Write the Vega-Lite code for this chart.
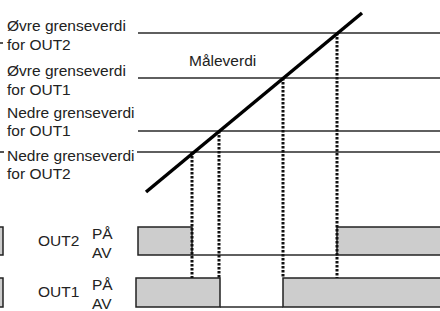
{
  "$schema": "https://vega.github.io/schema/vega-lite/v6.json",
  "width": 440,
  "height": 311,
  "padding": 0,
  "autosize": "none",
  "background": "white",
  "config": {"view": {"stroke": null}},
  "datasets": {
    "levels": [
      {"x1": 138, "x2": 440, "y1": 33, "y2": 33},
      {"x1": 138, "x2": 440, "y1": 78, "y2": 78},
      {"x1": 138, "x2": 440, "y1": 131, "y2": 131},
      {"x1": 137, "x2": 440, "y1": 152, "y2": 152},
      {"x1": 192, "x2": 337, "y1": 255, "y2": 255},
      {"x1": 220, "x2": 283, "y1": 307, "y2": 307},
      {"x1": 0, "x2": 3, "y1": 43, "y2": 43},
      {"x1": 0, "x2": 4, "y1": 152, "y2": 152}
    ],
    "measure": [
      {"x1": 146, "x2": 362, "y1": 192, "y2": 13}
    ],
    "drops": [
      {"x1": 192, "x2": 192, "y1": 152, "y2": 278},
      {"x1": 219, "x2": 219, "y1": 131, "y2": 278},
      {"x1": 283, "x2": 283, "y1": 78, "y2": 278},
      {"x1": 337, "x2": 337, "y1": 33, "y2": 278}
    ],
    "states": [
      {"output": "OUT2", "x1": 138, "x2": 192, "y1": 227, "y2": 255},
      {"output": "OUT2", "x1": 337, "x2": 450, "y1": 227, "y2": 255},
      {"output": "OUT2", "x1": -10, "x2": 3, "y1": 227, "y2": 255},
      {"output": "OUT1", "x1": 136, "x2": 220, "y1": 278, "y2": 307},
      {"output": "OUT1", "x1": 283, "x2": 450, "y1": 278, "y2": 307},
      {"output": "OUT1", "x1": -10, "x2": 3, "y1": 278, "y2": 307}
    ],
    "labels": [
      {"text": "Øvre grenseverdi", "x": 7, "y": 26},
      {"text": "for OUT2", "x": 7, "y": 45},
      {"text": "Øvre grenseverdi", "x": 7, "y": 71},
      {"text": "for OUT1", "x": 7, "y": 90},
      {"text": "Nedre grenseverdi", "x": 7, "y": 113},
      {"text": "for OUT1", "x": 7, "y": 131},
      {"text": "Nedre grenseverdi", "x": 7, "y": 156},
      {"text": "for OUT2", "x": 7, "y": 174},
      {"text": "Måleverdi", "x": 189, "y": 61},
      {"text": "OUT2", "x": 38, "y": 241},
      {"text": "PÅ", "x": 92, "y": 234},
      {"text": "AV", "x": 92, "y": 253},
      {"text": "OUT1", "x": 38, "y": 292},
      {"text": "PÅ", "x": 92, "y": 285},
      {"text": "AV", "x": 92, "y": 304}
    ]
  },
  "layer": [
    {
      "data": {"name": "states"},
      "mark": {"type": "rect", "fill": "#cdcdcd", "stroke": "#222222", "strokeWidth": 1.5, "clip": true},
      "encoding": {
        "x": {"field": "x1", "type": "quantitative", "scale": {"domain": [0, 440], "nice": false, "zero": false}, "axis": null},
        "x2": {"field": "x2"},
        "y": {"field": "y1", "type": "quantitative", "scale": {"domain": [0, 311], "nice": false, "zero": false, "reverse": true}, "axis": null},
        "y2": {"field": "y2"}
      }
    },
    {
      "data": {"name": "levels"},
      "mark": {"type": "rule", "color": "#2a2a2a", "strokeWidth": 1.6},
      "encoding": {
        "x": {"field": "x1", "type": "quantitative"},
        "x2": {"field": "x2"},
        "y": {"field": "y1", "type": "quantitative"},
        "y2": {"field": "y2"}
      }
    },
    {
      "data": {"name": "drops"},
      "mark": {"type": "rule", "color": "#111111", "strokeWidth": 3, "strokeDash": [2.5, 1.5]},
      "encoding": {
        "x": {"field": "x1", "type": "quantitative"},
        "x2": {"field": "x2"},
        "y": {"field": "y1", "type": "quantitative"},
        "y2": {"field": "y2"}
      }
    },
    {
      "data": {"name": "measure"},
      "mark": {"type": "rule", "color": "#000000", "strokeWidth": 3.5},
      "encoding": {
        "x": {"field": "x1", "type": "quantitative"},
        "x2": {"field": "x2"},
        "y": {"field": "y1", "type": "quantitative"},
        "y2": {"field": "y2"}
      }
    },
    {
      "data": {"name": "labels"},
      "mark": {"type": "text", "align": "left", "baseline": "middle", "font": "Liberation Sans", "fontSize": 15.5, "color": "#222222"},
      "encoding": {
        "x": {"field": "x", "type": "quantitative"},
        "y": {"field": "y", "type": "quantitative"},
        "text": {"field": "text"}
      }
    }
  ]
}
